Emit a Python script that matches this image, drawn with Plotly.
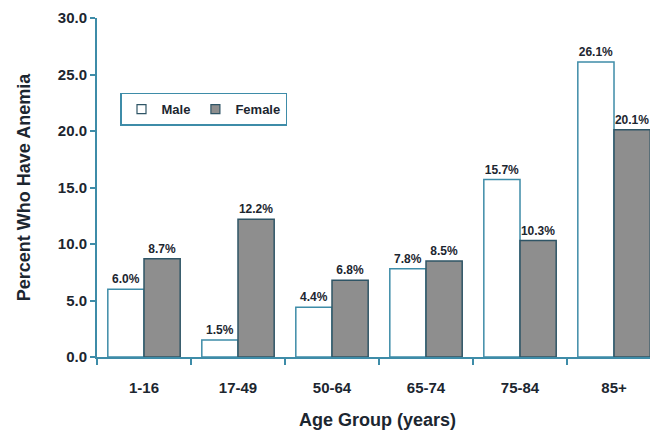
import plotly.graph_objects as go

age_groups = ["1-16", "17-49", "50-64", "65-74", "75-84", "85+"]
male = [6.0, 1.5, 4.4, 7.8, 15.7, 26.1]
female = [8.7, 12.2, 6.8, 8.5, 10.3, 20.1]
y_ticks = [0, 5, 10, 15, 20, 25, 30]
y_tick_labels = ["0.0", "5.0", "10.0", "15.0", "20.0", "25.0", "30.0"]

FONT = "Arial, 'Liberation Sans', sans-serif"
TEAL = "#3e8ca8"
DARK = "#2f5566"
GRAY = "#8e8e8e"
TXT = "#1c2630"

fig = go.Figure()
fig.add_trace(go.Bar(
    name="Male", x=age_groups, y=male, showlegend=False,
    marker=dict(color="white", line=dict(color=TEAL, width=1.5)),
    text=[f"{v:.1f}%" for v in male], textposition="outside",
    textfont=dict(family=FONT, size=12, color=TXT, weight="bold"),
    cliponaxis=True,
))
fig.add_trace(go.Bar(
    name="Female", x=age_groups, y=female, showlegend=False,
    marker=dict(color=GRAY, line=dict(color=DARK, width=1.5)),
    text=[f"{v:.1f}%" for v in female], textposition="outside",
    textfont=dict(family=FONT, size=12, color=TXT, weight="bold"),
    cliponaxis=True,
))
# legend-only entries with small square symbols
fig.add_trace(go.Scatter(
    name="Male", x=[None], y=[None], mode="markers",
    marker=dict(symbol="square", size=9, color="white", line=dict(color=DARK, width=1.2)),
))
fig.add_trace(go.Scatter(
    name="Female", x=[None], y=[None], mode="markers",
    marker=dict(symbol="square", size=9, color=GRAY, line=dict(color=DARK, width=1.2)),
))

# page body has an 8px default margin, so the figure is sized to fit the window
fig.update_layout(
    width=650, height=426,
    margin=dict(l=89, r=0, t=10, b=77, autoexpand=False),
    paper_bgcolor="white", plot_bgcolor="white",
    barmode="group", bargap=0.23, bargroupgap=0,
    font=dict(family=FONT, color=TXT),
    showlegend=True,
    legend=dict(
        orientation="h", x=0.041, y=0.78, xanchor="left", yanchor="top",
        bordercolor=TEAL, borderwidth=1.5, bgcolor="white",
        font=dict(family=FONT, size=13, color=TXT, weight="bold"),
        itemwidth=30, tracegroupgap=0,
    ),
    xaxis=dict(
        range=[-0.5, 5.468], automargin=False,
        showline=True, linecolor=TEAL, linewidth=2,
        ticks="outside", tickson="boundaries", ticklen=6, tickcolor=TEAL, tickwidth=1.5,
        tickfont=dict(family=FONT, size=15, color=TXT, weight="bold"),
        ticklabelstandoff=16,
        title=dict(text="Age Group (years)", standoff=18,
                   font=dict(family=FONT, size=18, color=TXT, weight="bold")),
        showgrid=False, zeroline=False,
    ),
    yaxis=dict(
        range=[0, 30], automargin=False,
        tickvals=y_ticks, ticktext=y_tick_labels,
        showline=True, linecolor=TEAL, linewidth=2,
        ticks="outside", ticklen=5, tickcolor=TEAL, tickwidth=1.5,
        tickfont=dict(family=FONT, size=15, color=TXT, weight="bold"),
        title=dict(text="Percent Who Have Anemia", standoff=22,
                   font=dict(family=FONT, size=18, color=TXT, weight="bold")),
        showgrid=False, zeroline=False,
    ),
)

fig.write_html("out.html")
